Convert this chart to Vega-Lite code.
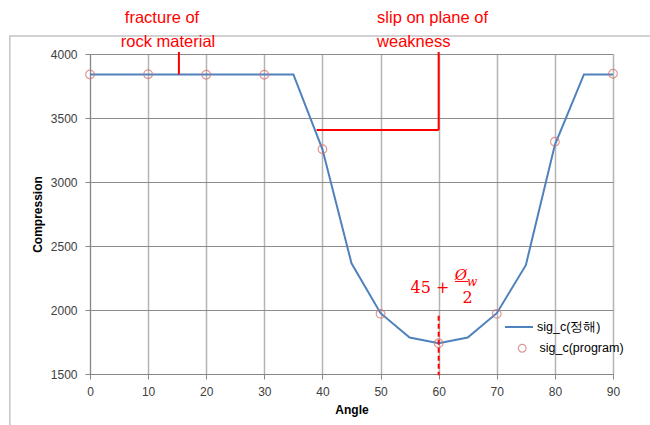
{
  "$schema": "https://vega.github.io/schema/vega-lite/v6.json",
  "width": 523,
  "height": 320,
  "autosize": {"type": "none"},
  "padding": {"left": 90, "top": 54, "right": 37, "bottom": 51},
  "background": "white",
  "config": {
    "view": {"stroke": null},
    "font": "Liberation Sans",
    "axisX": {
      "labelFont": "Liberation Sans", "labelFontSize": 12, "labelColor": "#404040", "labelFlush": false,
      "labelPadding": 7, "tickSize": 5, "tickColor": "#868686", "domainColor": "#868686",
      "gridColor": "#b4b4b4", "gridWidth": 1.5,
      "titleFont": "Liberation Sans", "titleFontSize": 12, "titleFontWeight": "bold", "titleColor": "#000000", "titlePadding": 7
    },
    "axisY": {
      "labelFont": "Liberation Sans", "labelFontSize": 12, "labelColor": "#404040", "labelFlush": false,
      "labelPadding": 8, "tickSize": 5, "tickColor": "#868686", "domainColor": "#868686",
      "gridColor": "#8c8c8c", "gridWidth": 1,
      "titleFont": "Liberation Sans", "titleFontSize": 12, "titleFontWeight": "bold", "titleColor": "#000000", "titlePadding": 6
    },
    "legend": {"labelFont": "Liberation Sans", "labelFontSize": 12.5, "labelColor": "#000000", "padding": 0}
  },
  "datasets": {
    "line": [
      {"angle": 0, "sig": 3840}, {"angle": 5, "sig": 3840}, {"angle": 10, "sig": 3840},
      {"angle": 15, "sig": 3840}, {"angle": 20, "sig": 3840}, {"angle": 25, "sig": 3840},
      {"angle": 30, "sig": 3840}, {"angle": 35, "sig": 3840}, {"angle": 40, "sig": 3255},
      {"angle": 45, "sig": 2365}, {"angle": 50, "sig": 1975}, {"angle": 55, "sig": 1785},
      {"angle": 60, "sig": 1740}, {"angle": 65, "sig": 1785}, {"angle": 70, "sig": 1975},
      {"angle": 75, "sig": 2350}, {"angle": 80, "sig": 3290}, {"angle": 85, "sig": 3840},
      {"angle": 90, "sig": 3840}
    ],
    "points": [
      {"angle": 0, "sig": 3840}, {"angle": 10, "sig": 3842}, {"angle": 20, "sig": 3838},
      {"angle": 30, "sig": 3838}, {"angle": 40, "sig": 3256}, {"angle": 50, "sig": 1970},
      {"angle": 60, "sig": 1740}, {"angle": 70, "sig": 1970}, {"angle": 80, "sig": 3315},
      {"angle": 90, "sig": 3846}
    ],
    "frame": [{"x": -13.8, "x2": 100, "y": 4140, "y2": 1000}],
    "redlines": [
      {"x": 15.3, "y": 4016, "x2": 15.3, "y2": 3840},
      {"x": 60, "y": 4016, "x2": 60, "y2": 3406},
      {"x": 39, "y": 3406, "x2": 60, "y2": 3406}
    ],
    "dashed": [{"x": 60, "y": 1955, "y2": 1490}],
    "labels": [
      {"x": 6.0, "y": 4242, "text": "fracture of"},
      {"x": 5.3, "y": 4055, "text": "rock material"},
      {"x": 49.4, "y": 4242, "text": "slip on plane of"},
      {"x": 49.4, "y": 4055, "text": "weakness"}
    ],
    "f1": [{"x": 58.5, "y": 2172, "text": "45 +"}, {"x": 64.96, "y": 2090, "text": "2"}],
    "f2": [{"x": 63.84, "y": 2273, "text": "Ø"}],
    "f3": [{"x": 65.74, "y": 2219, "text": "w"}],
    "fbar": [{"x": 62.8, "x2": 65.05, "y": 2223}]
  },
  "layer": [
    {
      "data": {"name": "frame"},
      "mark": {"type": "rect", "fill": null, "stroke": "#c4c4c4", "strokeWidth": 1.5, "clip": false},
      "encoding": {
        "x": {"field": "x", "type": "quantitative", "scale": {"domain": [0, 90], "nice": false, "zero": false}, "title": "Angle",
              "axis": {"values": [0, 10, 20, 30, 40, 50, 60, 70, 80, 90], "format": "d"}},
        "x2": {"field": "x2"},
        "y": {"field": "y", "type": "quantitative", "scale": {"domain": [1500, 4000], "nice": false, "zero": false}, "title": "Compression",
              "axis": {"values": [1500, 2000, 2500, 3000, 3500, 4000], "format": "d"}},
        "y2": {"field": "y2"}
      }
    },
    {
      "data": {"name": "line"},
      "mark": {"type": "line", "strokeWidth": 2},
      "encoding": {
        "x": {"field": "angle", "type": "quantitative", "title": "Angle",
              "axis": {"values": [0, 10, 20, 30, 40, 50, 60, 70, 80, 90], "format": "d"}},
        "y": {"field": "sig", "type": "quantitative", "title": "Compression",
              "axis": {"values": [1500, 2000, 2500, 3000, 3500, 4000], "format": "d"}},
        "stroke": {
          "datum": "sig_c(정해)",
          "scale": {"range": ["#4f81bd"]},
          "legend": {
            "orient": "none", "legendX": 414, "legendY": 258, "title": null,
            "symbolType": "stroke", "symbolSize": 784, "symbolStrokeWidth": 2, "labelOffset": 3
          }
        }
      }
    },
    {
      "data": {"name": "points"},
      "mark": {"type": "point", "filled": false, "stroke": "#d0716e", "strokeWidth": 1.2, "size": 75, "shape": "circle"},
      "encoding": {
        "x": {"field": "angle", "type": "quantitative", "title": "Angle"},
        "y": {"field": "sig", "type": "quantitative", "title": "Compression"},
        "shape": {
          "datum": "sig_c(program)",
          "scale": {"range": ["circle"]},
          "legend": {
            "orient": "none", "legendX": 426, "legendY": 288, "title": null,
            "symbolSize": 60, "symbolStrokeColor": "#d0716e", "symbolFillColor": "transparent",
            "symbolStrokeWidth": 1.2, "labelOffset": 11
          }
        }
      }
    },
    {
      "data": {"name": "redlines"},
      "mark": {"type": "rule", "stroke": "#ff0000", "strokeWidth": 2},
      "encoding": {
        "x": {"field": "x", "type": "quantitative", "title": "Angle"},
        "x2": {"field": "x2"},
        "y": {"field": "y", "type": "quantitative", "title": "Compression"},
        "y2": {"field": "y2"}
      }
    },
    {
      "data": {"name": "dashed"},
      "mark": {"type": "rule", "stroke": "#ff0000", "strokeWidth": 2, "strokeDash": [5, 3]},
      "encoding": {
        "x": {"field": "x", "type": "quantitative", "title": "Angle"},
        "y": {"field": "y", "type": "quantitative", "title": "Compression"},
        "y2": {"field": "y2"}
      }
    },
    {
      "data": {"name": "labels"},
      "mark": {"type": "text", "align": "left", "baseline": "alphabetic", "font": "Liberation Sans", "fontSize": 16.5, "fill": "#ff0000"},
      "encoding": {
        "x": {"field": "x", "type": "quantitative", "title": "Angle"},
        "y": {"field": "y", "type": "quantitative", "title": "Compression"},
        "text": {"field": "text"}
      }
    },
    {
      "data": {"name": "f1"},
      "mark": {"type": "text", "align": "center", "baseline": "middle", "font": "DejaVu Serif", "fontSize": 16, "fill": "#ff0000"},
      "encoding": {
        "x": {"field": "x", "type": "quantitative", "title": "Angle"},
        "y": {"field": "y", "type": "quantitative", "title": "Compression"},
        "text": {"field": "text"}
      }
    },
    {
      "data": {"name": "f2"},
      "mark": {"type": "text", "align": "center", "baseline": "middle", "font": "DejaVu Serif", "fontStyle": "italic", "fontSize": 15, "fill": "#ff0000"},
      "encoding": {
        "x": {"field": "x", "type": "quantitative", "title": "Angle"},
        "y": {"field": "y", "type": "quantitative", "title": "Compression"},
        "text": {"field": "text"}
      }
    },
    {
      "data": {"name": "f3"},
      "mark": {"type": "text", "align": "center", "baseline": "middle", "font": "DejaVu Serif", "fontStyle": "italic", "fontSize": 12, "fill": "#ff0000"},
      "encoding": {
        "x": {"field": "x", "type": "quantitative", "title": "Angle"},
        "y": {"field": "y", "type": "quantitative", "title": "Compression"},
        "text": {"field": "text"}
      }
    },
    {
      "data": {"name": "fbar"},
      "mark": {"type": "rule", "stroke": "#ff0000", "strokeWidth": 1},
      "encoding": {
        "x": {"field": "x", "type": "quantitative", "title": "Angle"},
        "x2": {"field": "x2"},
        "y": {"field": "y", "type": "quantitative", "title": "Compression"}
      }
    }
  ]
}
